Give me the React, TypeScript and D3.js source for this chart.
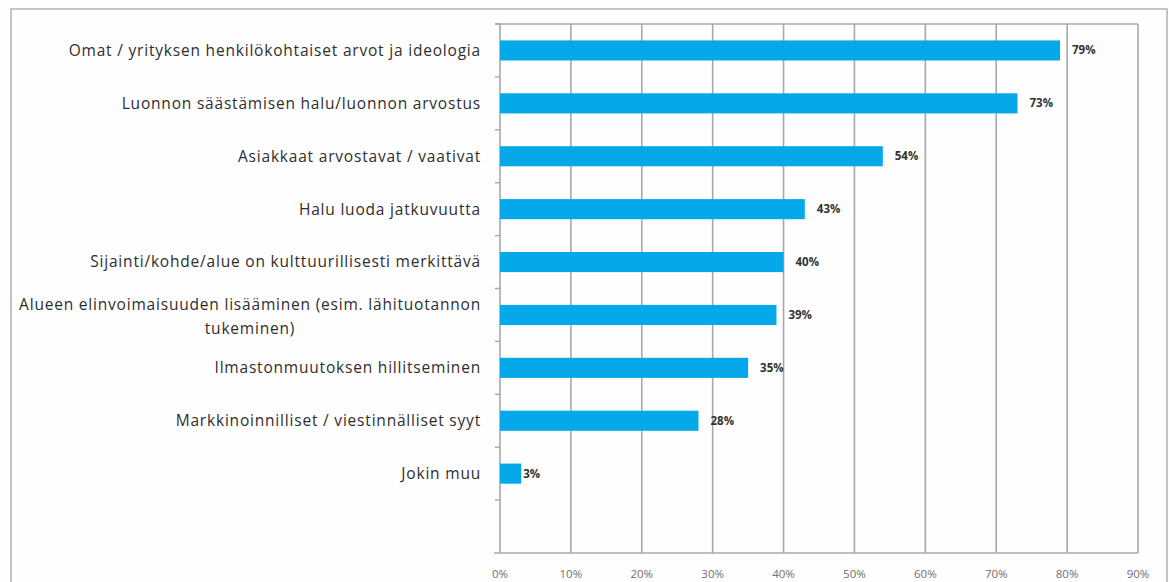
import React from "react";
import * as d3 from "d3";

const categories: string[][] = [
  ["Omat / yrityksen henkilökohtaiset arvot ja ideologia"],
  ["Luonnon säästämisen halu/luonnon arvostus"],
  ["Asiakkaat arvostavat / vaativat"],
  ["Halu luoda jatkuvuutta"],
  ["Sijainti/kohde/alue on kulttuurillisesti merkittävä"],
  ["Alueen elinvoimaisuuden lisääminen (esim. lähituotannon", "tukeminen)"],
  ["Ilmastonmuutoksen hillitseminen"],
  ["Markkinoinnilliset / viestinnälliset syyt"],
  ["Jokin muu"],
];
const values: number[] = [0.79, 0.73, 0.54, 0.43, 0.4, 0.39, 0.35, 0.28, 0.03];
const xTicks: number[] = [0, 0.1, 0.2, 0.3, 0.4, 0.5, 0.6, 0.7, 0.8, 0.9];

const W = 1169;
const H = 582;
const plotLeft = 500;
const plotRight = 1138;
const plotTop = 24;
const plotBottom = 553;
const FONT = "'Open Sans', 'DejaVu Sans', sans-serif";
const GRID = "#a8a8a8";
const BAR = "#05a9ea";
const LABEL_SIZE = 15.5;
const LABEL_SPACING = 0.8;

export default function App() {
  const slots = d3.range(categories.length + 1);
  const x = d3.scaleLinear().domain([0, 0.9]).range([plotLeft, plotRight]);
  const y = d3.scaleBand<number>().domain(slots).range([plotTop, plotBottom]).padding(0);
  const bw = y.bandwidth();
  const barH = bw * 0.38;
  const fmt = d3.format(".0%");

  const labelProps = {
    fontFamily: FONT,
    fontSize: LABEL_SIZE,
    letterSpacing: LABEL_SPACING,
    fill: "#2e2e2e",
  };

  return (
    <svg
      width={W}
      height={H}
      style={{ position: "absolute", left: 0, top: 0, background: "#fdfdfd" }}
    >
      <rect x={0} y={0} width={W} height={H} fill="#fdfdfd" />
      <rect x={11} y={9} width={1156} height={600} fill="#fefefe" stroke="#c4c4c4" strokeWidth={2} />

      {/* vertical gridlines */}
      {xTicks.map((t) => (
        <line key={"g" + t} x1={x(t)} x2={x(t)} y1={plotTop} y2={plotBottom} stroke={GRID} strokeWidth={1.6} />
      ))}
      {/* top border and bottom axis */}
      <line x1={plotLeft - 5} x2={plotRight} y1={plotTop} y2={plotTop} stroke={GRID} strokeWidth={1.6} />
      <line x1={plotLeft - 6} x2={plotRight} y1={plotBottom} y2={plotBottom} stroke={GRID} strokeWidth={1.6} />
      {/* category ticks */}
      {slots.map((s) => (
        <line key={"t" + s} x1={plotLeft - 5} x2={plotLeft} y1={y(s)!} y2={y(s)!} stroke={GRID} strokeWidth={1.4} />
      ))}

      {/* bars */}
      {values.map((v, i) => {
        const cy = y(i)! + bw / 2;
        return (
          <g key={"b" + i}>
            <rect x={x(0)} y={cy - barH / 2} width={x(v) - x(0)} height={barH} fill={BAR} />
            <text
              x={x(v) + (v < 0.1 ? 2 : 12)}
              y={cy}
              dy="0.35em"
              fontFamily={FONT}
              fontSize={11.5}
              fontWeight={700}
              fill="#333"
            >
              {fmt(v)}
            </text>
          </g>
        );
      })}

      {/* category labels */}
      {categories.map((lines, i) => {
        const cy = y(i)! + bw / 2;
        const lh = 24;
        const startY = cy - ((lines.length - 1) * lh) / 2 + 2;
        if (lines.length === 1) {
          return (
            <text key={"c" + i} x={481} y={cy} dy="0.35em" textAnchor="end" {...labelProps}>
              {lines[0]}
            </text>
          );
        }
        return (
          <g key={"c" + i}>
            <text x={481} y={startY} dy="0.35em" textAnchor="end" {...labelProps}>
              {lines[0]}
            </text>
            <text x={250} y={startY + lh} dy="0.35em" textAnchor="middle" {...labelProps}>
              {lines[1]}
            </text>
          </g>
        );
      })}

      {/* x tick labels */}
      {xTicks.map((t) => (
        <text key={"x" + t} x={x(t)} y={574} dy="0.35em" textAnchor="middle" fontFamily={FONT} fontSize={11.5} fill="#707070">
          {fmt(t)}
        </text>
      ))}
    </svg>
  );
}
